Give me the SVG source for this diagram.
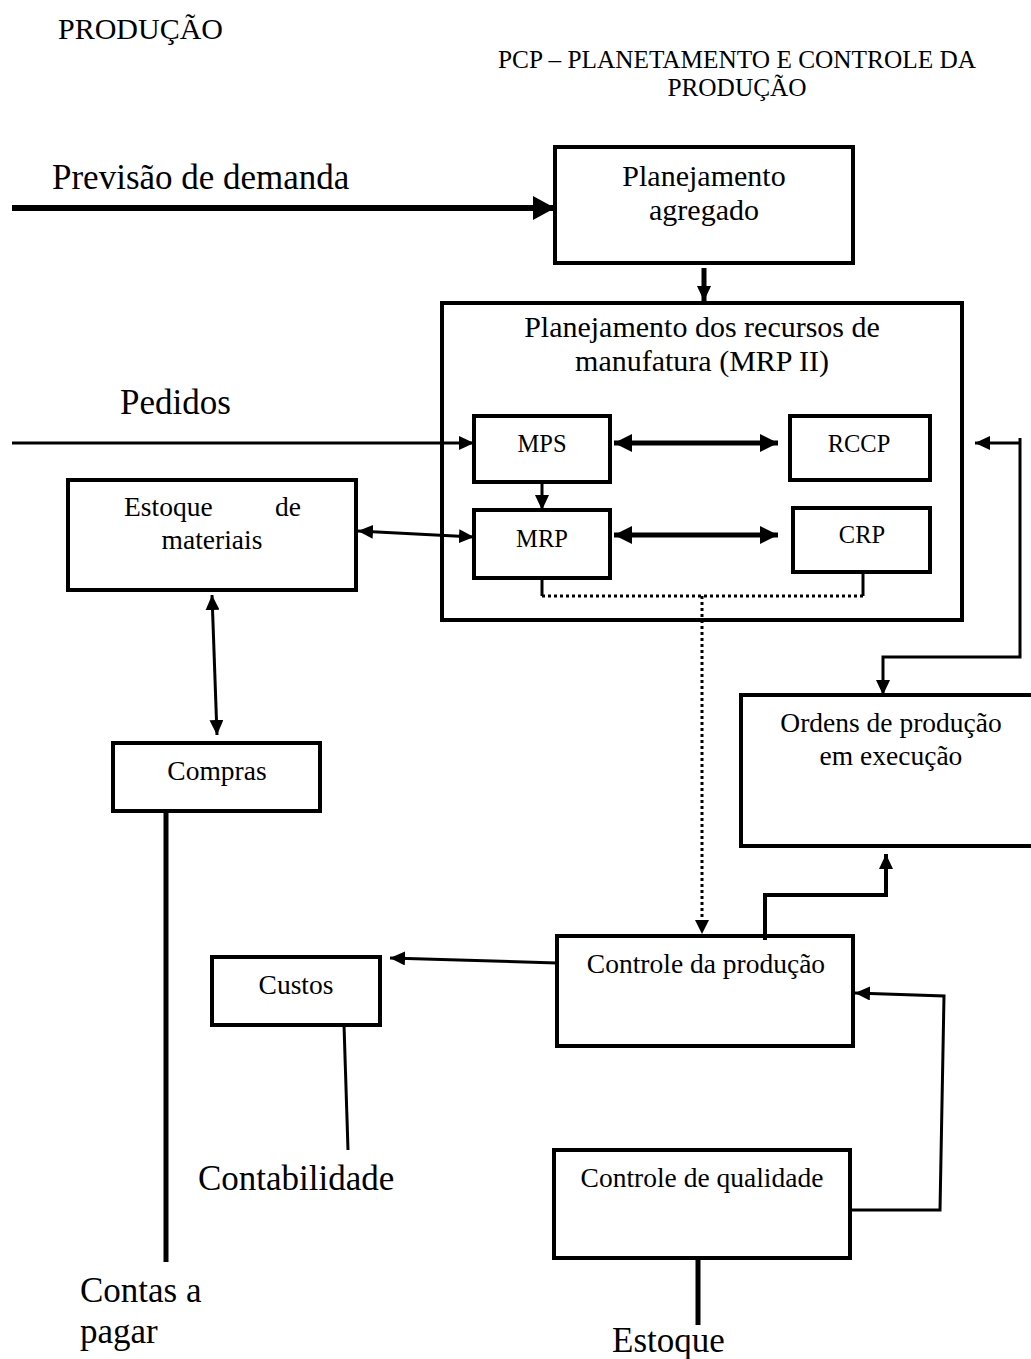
<svg xmlns="http://www.w3.org/2000/svg" width="1031" height="1359" viewBox="0 0 1031 1359">
<style>
text{font-family:"Liberation Serif","Times New Roman",serif;fill:#000}
.t20{font-size:24.5px}
.t22{font-size:27.5px}
.tp{font-size:25.3px}
.t26{font-size:30px}
.t32{font-size:35px}
.box{fill:#fff;stroke:#000;stroke-width:4}
.ln{fill:none;stroke:#000;stroke-linejoin:miter}
.dot{fill:none;stroke:#000;stroke-width:3;stroke-dasharray:3 3}
</style>
<defs>
<marker id="big" markerUnits="userSpaceOnUse" markerWidth="22" markerHeight="24" refX="22" refY="12" orient="auto"><path d="M0,0 L22,12 L0,24 z" fill="#000"/></marker>
<marker id="med" markerUnits="userSpaceOnUse" markerWidth="18" markerHeight="18" refX="18" refY="9" orient="auto-start-reverse"><path d="M0,0 L18,9 L0,18 z" fill="#000"/></marker>
<marker id="sm" markerUnits="userSpaceOnUse" markerWidth="15" markerHeight="14" refX="15" refY="7" orient="auto-start-reverse"><path d="M0,0 L15,7 L0,14 z" fill="#000"/></marker>
</defs>
<rect width="1031" height="1359" fill="#fff"/>

<g id="labels">
<text class="t26" x="58" y="39">PRODUÇÃO</text>
<text class="tp" x="737" y="68" text-anchor="middle">PCP – PLANETAMENTO E CONTROLE DA</text>
<text class="tp" x="737" y="96" text-anchor="middle">PRODUÇÃO</text>
<text class="t32" x="52" y="189">Previsão de demanda</text>
<text class="t32" x="120" y="414">Pedidos</text>
<text class="t32" x="198" y="1190">Contabilidade</text>
<text class="t32" x="80" y="1302">Contas a</text>
<text class="t32" x="80" y="1343">pagar</text>
<text class="t32" x="612" y="1352">Estoque</text>
</g>

<g id="n-agregado"><rect class="box" x="555" y="147" width="298" height="116"/>
<text class="t26" x="704" y="186" text-anchor="middle">Planejamento</text>
<text class="t26" x="704" y="220" text-anchor="middle">agregado</text></g>

<g id="n-mrp2"><rect class="box" x="442" y="303" width="520" height="317"/>
<text class="t26" x="702" y="337" text-anchor="middle">Planejamento dos recursos de</text>
<text class="t26" x="702" y="371" text-anchor="middle">manufatura (MRP II)</text></g>

<g id="n-mps"><rect class="box" x="474" y="416" width="136" height="66"/>
<text class="t20" x="542" y="452" text-anchor="middle">MPS</text></g>
<g id="n-rccp"><rect class="box" x="790" y="416" width="140" height="64"/>
<text class="t20" x="859" y="452" text-anchor="middle">RCCP</text></g>
<g id="n-mrp"><rect class="box" x="474" y="510" width="136" height="68"/>
<text class="t20" x="542" y="547" text-anchor="middle">MRP</text></g>
<g id="n-crp"><rect class="box" x="793" y="508" width="137" height="64"/>
<text class="t20" x="862" y="543" text-anchor="middle">CRP</text></g>

<g id="n-estoque"><rect class="box" x="68" y="480" width="288" height="110"/>
<text class="t22" x="124" y="516">Estoque</text>
<text class="t22" x="301" y="516" text-anchor="end">de</text>
<text class="t22" x="212" y="549" text-anchor="middle">materiais</text></g>

<g id="n-compras"><rect class="box" x="113" y="743" width="207" height="68"/>
<text class="t22" x="217" y="780" text-anchor="middle">Compras</text></g>

<g id="n-ordens"><rect class="box" x="741" y="695" width="294" height="151"/>
<text class="t22" x="891" y="732" text-anchor="middle">Ordens de produção</text>
<text class="t22" x="891" y="765" text-anchor="middle">em execução</text></g>

<g id="n-custos"><rect class="box" x="212" y="957" width="168" height="68"/>
<text class="t22" x="296" y="994" text-anchor="middle">Custos</text></g>

<g id="n-controle"><rect class="box" x="557" y="936" width="296" height="110"/>
<text class="t22" x="706" y="973" text-anchor="middle">Controle da produção</text></g>

<g id="n-qualidade"><rect class="box" x="554" y="1150" width="296" height="108"/>
<text class="t22" x="702" y="1187" text-anchor="middle">Controle de qualidade</text></g>

<g id="connectors">
<line class="ln" x1="12" y1="208" x2="555" y2="208" stroke-width="6" marker-end="url(#big)"/>
<line class="ln" x1="704" y1="268" x2="704" y2="301" stroke-width="5" marker-end="url(#sm)"/>
<line class="ln" x1="12" y1="443" x2="474" y2="443" stroke-width="3" marker-end="url(#sm)"/>
<line class="ln" x1="614" y1="443" x2="778" y2="443" stroke-width="5" marker-start="url(#med)" marker-end="url(#med)"/>
<line class="ln" x1="614" y1="535" x2="778" y2="535" stroke-width="5" marker-start="url(#med)" marker-end="url(#med)"/>
<line class="ln" x1="542" y1="482" x2="542" y2="510" stroke-width="3" marker-end="url(#sm)"/>
<line class="ln" x1="358" y1="531" x2="474" y2="537" stroke-width="3" marker-start="url(#sm)" marker-end="url(#sm)"/>
<line class="ln" x1="212" y1="595" x2="217" y2="735" stroke-width="3" marker-start="url(#sm)" marker-end="url(#sm)"/>
<line class="ln" x1="166" y1="811" x2="166" y2="1262" stroke-width="5"/>
<polyline class="ln" points="542,578 542,596" stroke-width="3"/>
<polyline class="ln" points="863,572 863,596" stroke-width="3"/>
<line class="dot" x1="542" y1="596" x2="863" y2="596"/>
<line class="dot" x1="702" y1="596" x2="702" y2="922"/>
<path d="M695,920 L709,920 L702,934 z" fill="#000"/>
<polyline class="ln" points="1020,438 1020,657 883,657 883,695" stroke-width="3" marker-end="url(#sm)"/>
<line class="ln" x1="1020" y1="443" x2="975" y2="443" stroke-width="3" marker-end="url(#sm)"/>
<polyline class="ln" points="765,940 765,895 886,895 886,854" stroke-width="4" marker-end="url(#sm)"/>
<line class="ln" x1="557" y1="963" x2="390" y2="958" stroke-width="3" marker-end="url(#sm)"/>
<line class="ln" x1="344" y1="1025" x2="348" y2="1150" stroke-width="3"/>
<polyline class="ln" points="852,1210 940,1210 944,996 855,993" stroke-width="3" marker-end="url(#sm)"/>
<line class="ln" x1="698" y1="1258" x2="698" y2="1325" stroke-width="5"/>
</g>
</svg>
